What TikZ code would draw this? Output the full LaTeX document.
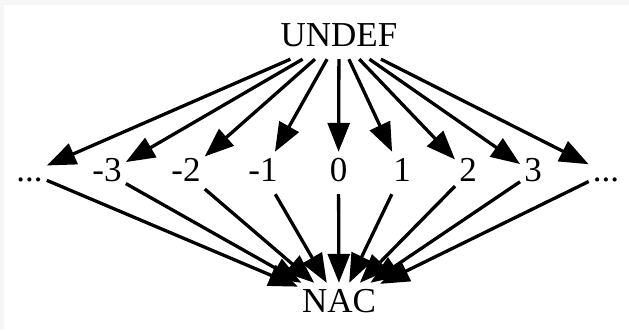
\documentclass[tikz,border=0pt]{standalone}
\usepackage{fontspec}
\setmainfont{Liberation Serif}
\usetikzlibrary{arrows.meta}
\definecolor{framegray}{HTML}{F6F6F6}
\begin{document}
\begin{tikzpicture}[x=1pt,y=-1pt,
  lbl/.style={inner xsep=4pt, inner ysep=0pt, minimum height=42pt,
    text height=24pt, text depth=8pt,
    font=\fontsize{35}{40}\selectfont},
  edge/.style={line width=3.3pt, -{Triangle[length=29pt,width=22pt]}}]
\fill[framegray] (0,0) rectangle (629,330);
\fill[white] (4,5) rectangle (629,330);
\useasboundingbox (0,0) rectangle (629,330);
\node[lbl] (U) at (339,38) {UNDEF};
\node[lbl] (N) at (339,304) {NAC};
\node[lbl] (dl) at (29.5,173) {...};
\node[lbl] (m3) at (107,173) {-3};
\node[lbl] (m2) at (186,173) {-2};
\node[lbl] (m1) at (263,173) {-1};
\node[lbl] (z)  at (338.5,173) {0};
\node[lbl] (p1) at (402,173) {1};
\node[lbl] (p2) at (468,173) {2};
\node[lbl] (p3) at (533,173) {3};
\node[lbl] (dr) at (606,173) {...};
\foreach \n in {dl,m3,m2,m1,z,p1,p2,p3,dr}{
  \draw[edge] (U) -- (\n);
  \draw[edge] (\n) -- (N);
}
\end{tikzpicture}
\end{document}
